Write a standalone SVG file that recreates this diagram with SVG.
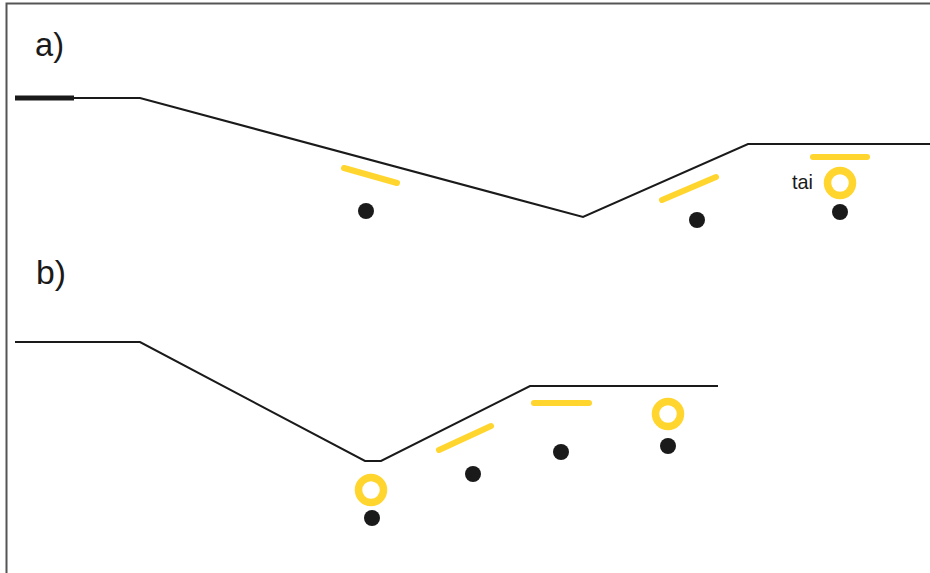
<svg xmlns="http://www.w3.org/2000/svg" width="930" height="573" viewBox="0 0 930 573">
<style>
.frame{fill:none;stroke:#555;stroke-width:2}
.prof{fill:none;stroke:#1a1a1a;stroke-width:2;stroke-linejoin:miter}
.dash{fill:none;stroke:#FFD52E;stroke-width:6;stroke-linecap:round}
.ring{fill:none;stroke:#FFD52E;stroke-width:7.5}
.dot{fill:#1a1a1a}
.lbl{font-family:"Liberation Sans",Arial,sans-serif;fill:#1a1a1a}
</style>
<rect width="930" height="573" fill="#fff"/>
<path class="frame" d="M6.5,573 V3.5 H930"/>
<g id="panel-a">
<text class="lbl" x="35" y="56" font-size="33" textLength="29" lengthAdjust="spacingAndGlyphs">a)</text>
<g id="profile-a">
<line x1="15" y1="98" x2="74" y2="98" stroke="#1a1a1a" stroke-width="5"/>
<path class="prof" d="M74,98 H140 L583,217 L748,144 H930"/>
</g>
<g id="a1"><line class="dash" x1="344" y1="168" x2="397" y2="183"/><circle class="dot" cx="366" cy="211" r="8"/></g>
<g id="a2"><line class="dash" x1="662" y1="200" x2="716" y2="177"/><circle class="dot" cx="697" cy="220" r="8"/></g>
<g id="a3"><line class="dash" x1="813" y1="157" x2="867" y2="157"/><circle class="ring" cx="840" cy="183" r="12.5"/><circle class="dot" cx="840" cy="212" r="8"/><text class="lbl" x="792" y="189" font-size="21" textLength="21" lengthAdjust="spacingAndGlyphs">tai</text></g>
</g>
<g id="panel-b">
<text class="lbl" x="36" y="284" font-size="33" textLength="30" lengthAdjust="spacingAndGlyphs">b)</text>
<g id="profile-b"><path class="prof" d="M15,342 H140 L365,461 H381 L530,386 H718"/></g>
<g id="b1"><circle class="ring" cx="371" cy="490" r="12.5"/><circle class="dot" cx="372" cy="518" r="8"/></g>
<g id="b2"><line class="dash" x1="439" y1="450" x2="491" y2="426"/><circle class="dot" cx="473" cy="474" r="8"/></g>
<g id="b3"><line class="dash" x1="534" y1="403" x2="589" y2="403"/><circle class="dot" cx="561" cy="452" r="8"/></g>
<g id="b4"><circle class="ring" cx="668" cy="414" r="12.5"/><circle class="dot" cx="668" cy="446" r="8"/></g>
</g>
</svg>
